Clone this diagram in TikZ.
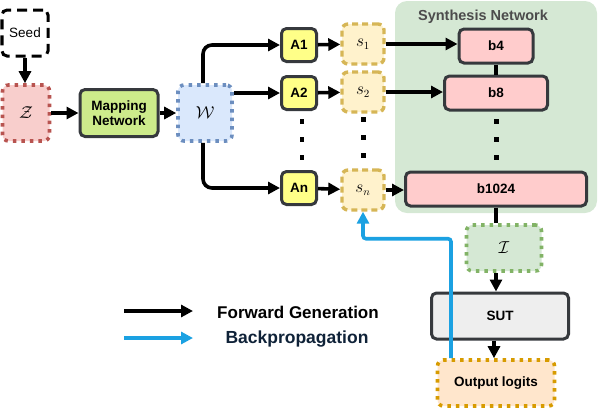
\documentclass[tikz,border=0pt]{standalone}
\usepackage{fontspec}
\setsansfont{Liberation Sans}
\usetikzlibrary{arrows.meta,positioning}

\definecolor{edgegray}{HTML}{36393D}
\definecolor{zfill}{HTML}{F8CECC}
\definecolor{zline}{HTML}{B85450}
\definecolor{mapfill}{HTML}{CDEB8B}
\definecolor{wfill}{HTML}{DAE8FC}
\definecolor{wline}{HTML}{6C8EBF}
\definecolor{afill}{HTML}{FFFF88}
\definecolor{sfill}{HTML}{FFF2CC}
\definecolor{sline}{HTML}{D6B656}
\definecolor{synfill}{HTML}{D5E8D4}
\definecolor{iline}{HTML}{82B366}
\definecolor{bfill}{HTML}{FFCCCC}
\definecolor{sutfill}{HTML}{EEEEEE}
\definecolor{outfill}{HTML}{FFE6CC}
\definecolor{outline}{HTML}{D79B00}
\definecolor{backblue}{HTML}{1BA1E2}
\definecolor{legendnavy}{HTML}{0F2238}

\begin{document}
\begin{tikzpicture}[x=1pt,y=-1pt,
    font=\sffamily\bfseries\fontsize{13.5}{15}\selectfont,
    fwd/.style={-{Triangle[length=12pt,width=12pt]},line width=3.6pt},
    back/.style={-{Triangle[length=12pt,width=12pt]},line width=3.6pt,draw=backblue},
    solid box/.style={draw=edgegray,line width=3pt,rounded corners=5pt},
    dot box/.style={line width=3.6pt,rounded corners=6pt,dash pattern=on 3.5pt off 5pt},
    dash box/.style={line width=3.4pt,rounded corners=6pt,dash pattern=on 6pt off 4pt},
    math box/.style={font=\fontsize{18}{20}\selectfont},
    sbox/.style={dash box,draw=sline,fill=sfill,minimum width=42pt,minimum height=40pt,font=\fontsize{16}{18}\selectfont},
    abox/.style={solid box,fill=afill,minimum width=35pt,minimum height=33pt},
    bbox/.style={solid box,fill=bfill,minimum height=34pt}]

    \useasboundingbox (0,0) rectangle (598,408);

    % synthesis background
    \fill[synfill,rounded corners=12pt] (395,1) rectangle (597,213);
    \node[text=black!70,font=\sffamily\bfseries\fontsize{14.5}{16}\selectfont] (syntitle) at (483,17) {Synthesis Network};

    % mapping side
    \node[draw,line width=3pt,dash pattern=on 10pt off 6pt,rounded corners=5pt,
          minimum width=46pt,minimum height=46pt,font=\sffamily\fontsize{13.5}{15}\selectfont] (seed) at (25,33) {Seed};
    \node[dot box,math box,draw=zline,fill=zfill,minimum width=47pt,minimum height=56pt] (Z) at (26,113) {$\mathcal{Z}$};
    \node[solid box,fill=mapfill,minimum width=78pt,minimum height=47pt,align=center] (map) at (119,113) {Mapping\\Network};
    \node[dot box,math box,draw=wline,fill=wfill,minimum width=54pt,minimum height=56pt] (W) at (205,113) {$\mathcal{W}$};

    % affine blocks and styles
    \node[abox] (A1) at (299,45) {A1};
    \node[abox] (A2) at (299,93) {A2};
    \node[abox] (An) at (299,188) {An};
    \node[sbox] (s1) at (363,44) {$s_1$};
    \node[sbox] (s2) at (363,92) {$s_2$};
    \node[sbox] (sn) at (363,190) {$s_n$};

    % synthesis blocks
    \node[bbox,minimum width=74pt] (b4) at (496,46) {b4};
    \node[bbox,minimum width=103pt] (b8) at (496,93) {b8};
    \node[bbox,minimum width=181pt] (b1024) at (496,189) {b1024};

    % image, SUT, logits
    \node[dot box,math box,draw=iline,fill=synfill,minimum width=75pt,minimum height=46pt] (I) at (504,248) {$\mathcal{I}$};
    \node[solid box,fill=sutfill,minimum width=137pt,minimum height=46pt] (SUT) at (500,316) {SUT};
    \node[dot box,draw=outline,fill=outfill,minimum width=117pt,minimum height=46pt] (out) at (496,383) {Output logits};

    % dots
    \foreach \yy in {119,137,155} {
        \fill (299.5,\yy) rectangle ++(4.5,4.5);
        \fill (361,\yy-2) rectangle ++(4.5,4.5);
        \fill (494,\yy) rectangle ++(4.5,4.5);
    }

    % forward connections
    \draw[fwd] (seed.south) -- (seed.south |- Z.north);
    \draw[fwd] (Z) -- (map);
    \draw[fwd] (map) -- (W);
    \draw[fwd,rounded corners=9pt] ([xshift=-2pt]W.north) |- (A1);
    \draw[fwd] (W.east |- A2) -- (A2);
    \draw[fwd,rounded corners=9pt] ([xshift=-2pt]W.south) |- (An);
    \draw[fwd] (A1) -- (s1);
    \draw[fwd] (A2) -- (s2);
    \draw[fwd] (An) -- (sn);
    \draw[fwd] (s1) -- (b4.west |- s1);
    \draw[fwd] (s2) -- (b8.west |- s2);
    \draw[fwd] (sn) -- (b1024.west |- sn);
    \draw[line width=3.6pt] (b4) -- (b8);
    \draw[line width=3.6pt] (b1024.south) -- (b1024.south |- I.north);
    \draw[fwd] (b1024.south |- I.south) -- (b1024.south |- SUT.north);
    \draw[fwd] ([xshift=-2pt]out.north |- SUT.south) -- ([xshift=-2pt]out.north);

    % backpropagation
    \draw[back,rounded corners=3pt] ([xshift=-45pt]out.north) |- ([yshift=-27pt]sn.south) -- (sn.south);

    % legend
    \coordinate (fa) at (124,311);
    \coordinate (fb) at (193,311);
    \coordinate (ba) at (124,338);
    \coordinate (bb) at (193,338);
    \draw[fwd] (fa) -- (fb);
    \draw[back] (ba) -- (bb);
    \node[font=\sffamily\bfseries\fontsize{17}{19}\selectfont] (fwdtxt) at (298,312) {Forward Generation};
    \node[font=\sffamily\bfseries\fontsize{17.5}{19}\selectfont,text=legendnavy] (backtxt) at (297,339) {Backpropagation};

\end{tikzpicture}
\end{document}
